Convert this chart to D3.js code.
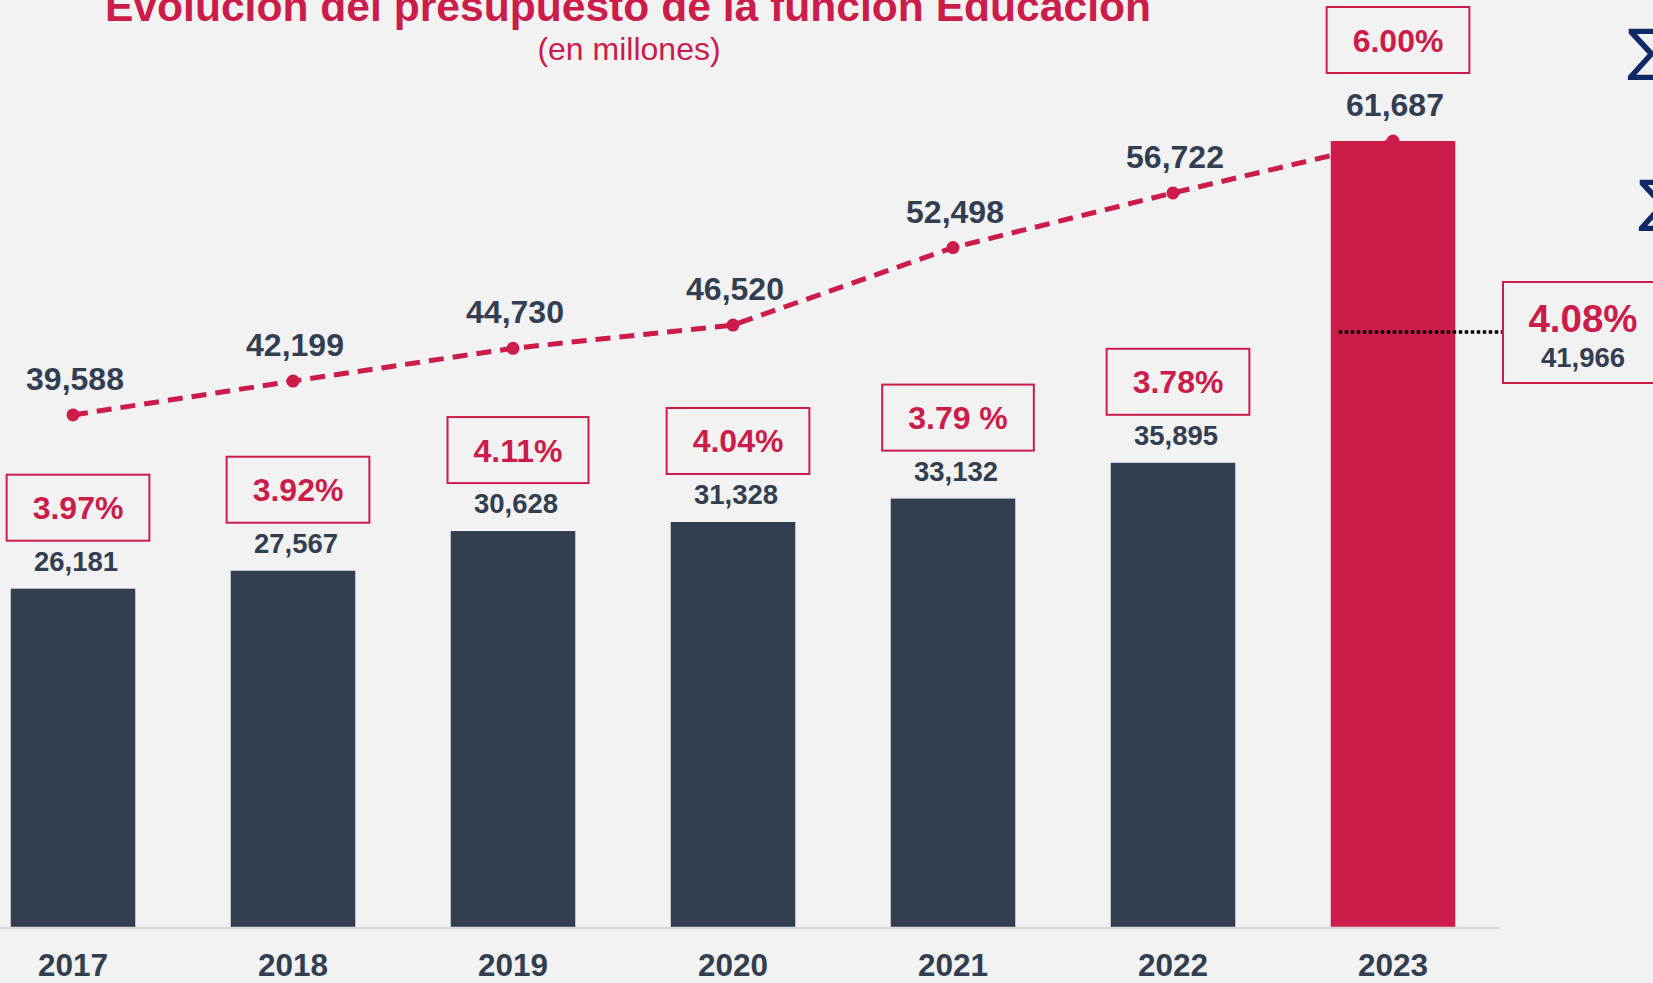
<!DOCTYPE html>
<html lang="es">

<head>
    <meta charset="UTF-8">
    <title>Evolución del presupuesto de la función Educación</title>
    <script src="https://d3js.org/d3.v7.min.js"></script>
    <style>
        body {
            margin: 0;
            background-color: #f2f2f2;
        }

        svg {
            display: block;
            font-family: "Liberation Sans", Arial, sans-serif;
        }
    </style>
</head>

<body>
    <svg id="chart"></svg>

    <script>
        // data
        const years = ['2017', '2018', '2019', '2020', '2021', '2022', '2023'];
        const barValues = [26181, 27567, 30628, 31328, 33132, 35895, 61687];
        const lineValues = [39588, 42199, 44730, 46520, 52498, 56722, 61687];
        const pctLabels = ['3.97%', '3.92%', '4.11%', '4.04%', '3.79 %', '3.78%', '6.00%'];
        const sidePct = '4.08%';
        const sideValue = 41966;

        const width = 1653, height = 983;
        const dark = '#333e50', red = '#cb1c4a';
        const fmt = d3.format(',');

        const svg = d3.select('#chart')
            .attr('width', width)
            .attr('height', height);

        svg.append('rect')
            .attr('width', width)
            .attr('height', height)
            .attr('fill', '#f2f2f2');

        const x = d3.scaleBand()
            .domain(years)
            .range([-37, 1503])
            .paddingInner(0.434)
            .paddingOuter(0.217);

        // the top bar is clipped at the top of the plot, as in the original
        const y = d3.scaleLinear()
            .domain([0, 60725])
            .range([928, 141])
            .clamp(true);

        const cx = function (d) { return x(d) + x.bandwidth() / 2; };
        const last = years.length - 1;

        // title
        svg.append('text')
            .attr('x', 628)
            .attr('y', 21)
            .attr('text-anchor', 'middle')
            .attr('font-size', 42.6)
            .attr('font-weight', 'bold')
            .attr('fill', red)
            .text('Evolución del presupuesto de la función Educación');

        svg.append('text')
            .attr('x', 629)
            .attr('y', 60)
            .attr('text-anchor', 'middle')
            .attr('font-size', 32)
            .attr('fill', red)
            .text('(en millones)');

        // bars
        svg.append('g')
            .selectAll('rect')
            .data(years)
            .join('rect')
            .attr('x', function (d) { return x(d); })
            .attr('y', function (d, i) { return y(barValues[i]); })
            .attr('width', x.bandwidth())
            .attr('height', function (d, i) { return y(0) - y(barValues[i]); })
            .attr('fill', function (d, i) { return i === last ? red : dark; });

        // baseline
        svg.append('line')
            .attr('x1', 0)
            .attr('x2', 1500)
            .attr('y1', 928)
            .attr('y2', 928)
            .attr('stroke', '#d9d9d9')
            .attr('stroke-width', 2.5);

        // x axis labels
        const xAxis = d3.axisBottom(x).tickSize(0).tickPadding(26);
        const gx = svg.append('g')
            .attr('transform', 'translate(0,928)')
            .call(xAxis);
        gx.select('.domain').remove();
        gx.selectAll('text')
            .attr('font-family', '"Liberation Sans", Arial, sans-serif')
            .attr('font-size', 31.5)
            .attr('font-weight', 'bold')
            .attr('fill', dark);

        // dashed line of the total budget
        const line = d3.line()
            .x(function (d, i) { return cx(years[i]); })
            .y(function (d) { return y(d); });

        svg.append('path')
            .datum(lineValues)
            .attr('d', line)
            .attr('fill', 'none')
            .attr('stroke', red)
            .attr('stroke-width', 5)
            .attr('stroke-dasharray', '15,9');

        svg.append('g')
            .selectAll('circle')
            .data(lineValues)
            .join('circle')
            .attr('cx', function (d, i) { return cx(years[i]); })
            .attr('cy', function (d) { return y(d); })
            .attr('r', 6.5)
            .attr('fill', red);

        svg.append('g')
            .selectAll('text')
            .data(lineValues)
            .join('text')
            .attr('x', function (d, i) { return cx(years[i]) + 2; })
            .attr('y', function (d) { return y(d) - 25; })
            .attr('text-anchor', 'middle')
            .attr('font-size', 32)
            .attr('font-weight', 'bold')
            .attr('fill', dark)
            .text(function (d) { return fmt(d); });

        // bar value labels (the last bar shares the line label)
        svg.append('g')
            .selectAll('text')
            .data(barValues.slice(0, last))
            .join('text')
            .attr('x', function (d, i) { return cx(years[i]) + 3; })
            .attr('y', function (d) { return y(d) - 18; })
            .attr('text-anchor', 'middle')
            .attr('font-size', 27.5)
            .attr('font-weight', 'bold')
            .attr('fill', dark)
            .text(function (d) { return fmt(d); });

        // percentage boxes
        const boxH = 66;
        const boxes = svg.append('g')
            .selectAll('g')
            .data(pctLabels)
            .join('g')
            .attr('transform', function (d, i) {
                const bottom = i === last ? y(lineValues[i]) - 68 : y(barValues[i]) - 48;
                return 'translate(' + (cx(years[i]) + 5) + ',' + (bottom - boxH) + ')';
            });

        boxes.append('text')
            .attr('x', 0)
            .attr('y', boxH / 2 + 11.5)
            .attr('text-anchor', 'middle')
            .attr('font-size', 32)
            .attr('font-weight', 'bold')
            .attr('fill', red)
            .text(function (d) { return d; });

        boxes.insert('rect', 'text')
            .attr('x', function () { return -(this.parentNode.querySelector('text').getBBox().width + 52) / 2; })
            .attr('y', 0)
            .attr('width', function () { return this.parentNode.querySelector('text').getBBox().width + 52; })
            .attr('height', boxH)
            .attr('fill', 'none')
            .attr('stroke', red)
            .attr('stroke-width', 2);

        // side annotation
        const annY = 332;
        svg.append('line')
            .attr('x1', x(years[last]) + 8)
            .attr('x2', 1502)
            .attr('y1', annY)
            .attr('y2', annY)
            .attr('stroke', '#000')
            .attr('stroke-width', 3.5)
            .attr('stroke-dasharray', '3.5,2.5');

        svg.append('rect')
            .attr('x', 1503)
            .attr('y', 282)
            .attr('width', 220)
            .attr('height', 101)
            .attr('fill', 'none')
            .attr('stroke', red)
            .attr('stroke-width', 2);

        svg.append('text')
            .attr('x', 1583)
            .attr('y', 332)
            .attr('text-anchor', 'middle')
            .attr('font-size', 38.5)
            .attr('font-weight', 'bold')
            .attr('fill', red)
            .text(sidePct);

        svg.append('text')
            .attr('x', 1583)
            .attr('y', 367)
            .attr('text-anchor', 'middle')
            .attr('font-size', 27.5)
            .attr('font-weight', 'bold')
            .attr('fill', dark)
            .text(fmt(sideValue));

        // bullets of the cut-off text on the right
        svg.append('g')
            .selectAll('text')
            .data([{ x: 1627, y: 69 }, { x: 1638, y: 220 }])
            .join('text')
            .attr('x', function (d) { return d.x; })
            .attr('y', function (d) { return d.y; })
            .attr('font-family', '"DejaVu Sans", sans-serif')
            .attr('font-size', 56)
            .attr('fill', '#0f2a66')
            .text('∑');
    </script>
</body>

</html>
